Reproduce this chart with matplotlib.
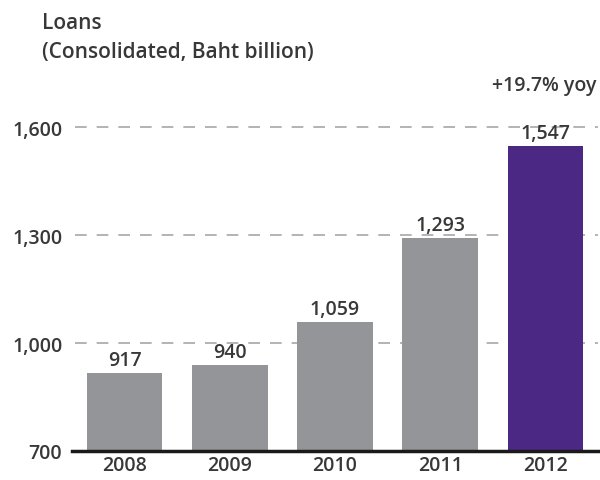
import matplotlib.pyplot as plt
from matplotlib.ticker import FuncFormatter

years = ["2008", "2009", "2010", "2011", "2012"]
loans = [917, 940, 1059, 1293, 1547]
colors = ["#939598", "#939598", "#939598", "#939598", "#4b2884"]
yticks = [700, 1000, 1300, 1600]

txt = "#383838"
fs = 14
plt.rcParams["font.family"] = ["Open Sans", "DejaVu Sans"]
plt.rcParams["font.weight"] = "semibold"

fig = plt.figure(figsize=(6, 4.81), dpi=100)
ax = fig.add_axes([0.12, 0.0603, 0.8767, 0.7484])

x = range(len(years))
ax.bar(x, loans, width=0.72, color=colors, zorder=2)
for xi, v in zip(x, loans):
    ax.text(xi, v + 8, f"{v:,}", ha="center", va="bottom",
            fontsize=fs, color=txt, zorder=3)

ax.set_xlim(-0.5, 4.5)
ax.set_ylim(700, 1700)
ax.set_yticks(yticks)
ax.yaxis.set_major_formatter(FuncFormatter(lambda v, p: f"{int(v):,}"))
ax.set_xticks(list(x))
ax.set_xticklabels(years)
ax.tick_params(length=0, labelsize=fs, labelcolor=txt)
ax.tick_params(axis="y", pad=7)
ax.tick_params(axis="x", pad=3)

for y in yticks[1:]:
    ax.axhline(y, xmin=0.006, color="#a7a7a7", lw=1.2,
               dashes=(7, 6), zorder=1)

for s in ["top", "right", "left"]:
    ax.spines[s].set_visible(False)
ax.spines["bottom"].set_color("#1a1a1a")
ax.spines["bottom"].set_linewidth(2.5)
ax.spines["bottom"].set_zorder(4)

fig.text(0.07, 0.952, "Loans", fontsize=15, color=txt, va="center")
fig.text(0.07, 0.89, "(Consolidated, Baht billion)", fontsize=15,
         color=txt, va="center")
fig.text(0.995, 0.822, "+19.7% yoy", fontsize=fs, color=txt,
         ha="right", va="center")

fig.savefig("out.png", dpi=100)
